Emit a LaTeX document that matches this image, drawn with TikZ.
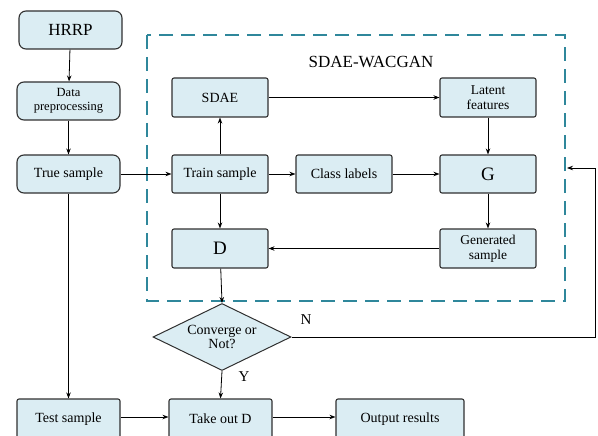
\documentclass[tikz,border=0pt]{standalone}
\usepackage{fontspec}
\setmainfont{Liberation Serif}
\usetikzlibrary{arrows.meta,shapes.geometric}
\definecolor{boxfill}{HTML}{DBEDF3}
\definecolor{boxline}{HTML}{303030}
\definecolor{dashcol}{HTML}{2F879B}
\tikzset{
  x=1pt,y=-1pt,
  blk/.style={draw=boxline,fill=boxfill,line width=1.1pt,rounded corners=2pt,inner sep=0pt,align=center,font=\fontsize{14}{15.5}\selectfont},
  rblk/.style={blk,rounded corners=7pt},
  arr/.style={draw=black,line width=0.8pt,-{Stealth[length=6pt,width=4.5pt]}},
  ln/.style={draw=black,line width=0.8pt}
}
\begin{document}
\begin{tikzpicture}
\useasboundingbox (0,0) rectangle (598,436);
\draw[dashcol,line width=2.2pt,dash pattern=on 14pt off 8pt] (147,35) rectangle (565,301);
\node[font=\fontsize{17}{18}\selectfont] (title) at (371,62) {SDAE-WACGAN};
% left column
\node[rblk,minimum width=103pt,minimum height=38pt,font=\fontsize{17}{18}\selectfont] (hrrp) at (70.5,30) {HRRP};
\node[rblk,minimum width=103pt,minimum height=38pt,font=\fontsize{12.5}{14.5}\selectfont] (pre) at (68.5,101) {Data\\preprocessing};
\node[rblk,minimum width=103pt,minimum height=38pt] (true) at (68.5,174) {True sample};
\node[blk,minimum width=103pt,minimum height=40pt] (test) at (68.5,419) {Test sample};
% inner
\node[blk,minimum width=96pt,minimum height=39pt] (sdae) at (220,97.5) {SDAE};
\node[blk,minimum width=96pt,minimum height=38pt] (train) at (220,174) {Train sample};
\node[blk,minimum width=96pt,minimum height=38pt] (class) at (344,174) {Class labels};
\node[blk,minimum width=96pt,minimum height=39pt,font=\fontsize{13.5}{15}\selectfont] (lat) at (488,97.5) {Latent\\features};
\node[blk,minimum width=96pt,minimum height=38pt,font=\fontsize{19}{20}\selectfont] (g) at (488,174) {G};
\node[blk,minimum width=96pt,minimum height=39pt,font=\fontsize{19}{20}\selectfont] (d) at (220,248.5) {D};
\node[blk,minimum width=96pt,minimum height=39pt,font=\fontsize{13.5}{15}\selectfont] (gen) at (488,248.5) {Generated\\sample};
\node[diamond,draw=boxline,fill=boxfill,line width=1pt,inner sep=0pt,minimum width=138pt,minimum height=67pt] (conv) at (222,337) {};
\node[align=center,font=\fontsize{14}{11}\selectfont] (convtext) at (222,337) {Converge or\\Not?};
\node[blk,minimum width=103pt,minimum height=40pt] (take) at (220.5,419) {Take out D};
\node[blk,minimum width=128pt,minimum height=40pt] (out) at (400,419) {Output results};
% arrows
\draw[arr] (hrrp) -- (pre);
\draw[arr] (pre) -- (true);
\draw[arr] (true) -- (train);
\draw[arr] (train) -- (sdae);
\draw[arr] (sdae) -- (lat);
\draw[arr] (train) -- (class);
\draw[arr] (class) -- (g);
\draw[arr] (lat) -- (g);
\draw[arr] (g) -- (gen);
\draw[arr] (gen) -- (d);
\draw[arr] (train) -- (d);
\draw[arr] (d) -- (conv.north);
\draw[arr] (conv.south) -- (take.north);
\draw[arr] (true.south) -- (test.north);
\draw[arr] (test.east |- 0,417) -- (take.west |- 0,417);
\draw[arr] (take.east |- 0,417) -- (out.west |- 0,417);
\coordinate (c1) at (595,337);
\coordinate (c2) at (595,168);
\coordinate (c3) at (567,168);
\draw[arr] (conv.east) -- (c1) -- (c2) -- (c3);
\node[font=\fontsize{15}{16}\selectfont] (nlab) at (306,320) {N};
\node[font=\fontsize{15}{16}\selectfont] (ylab) at (244,377) {Y};
\end{tikzpicture}
\end{document}
